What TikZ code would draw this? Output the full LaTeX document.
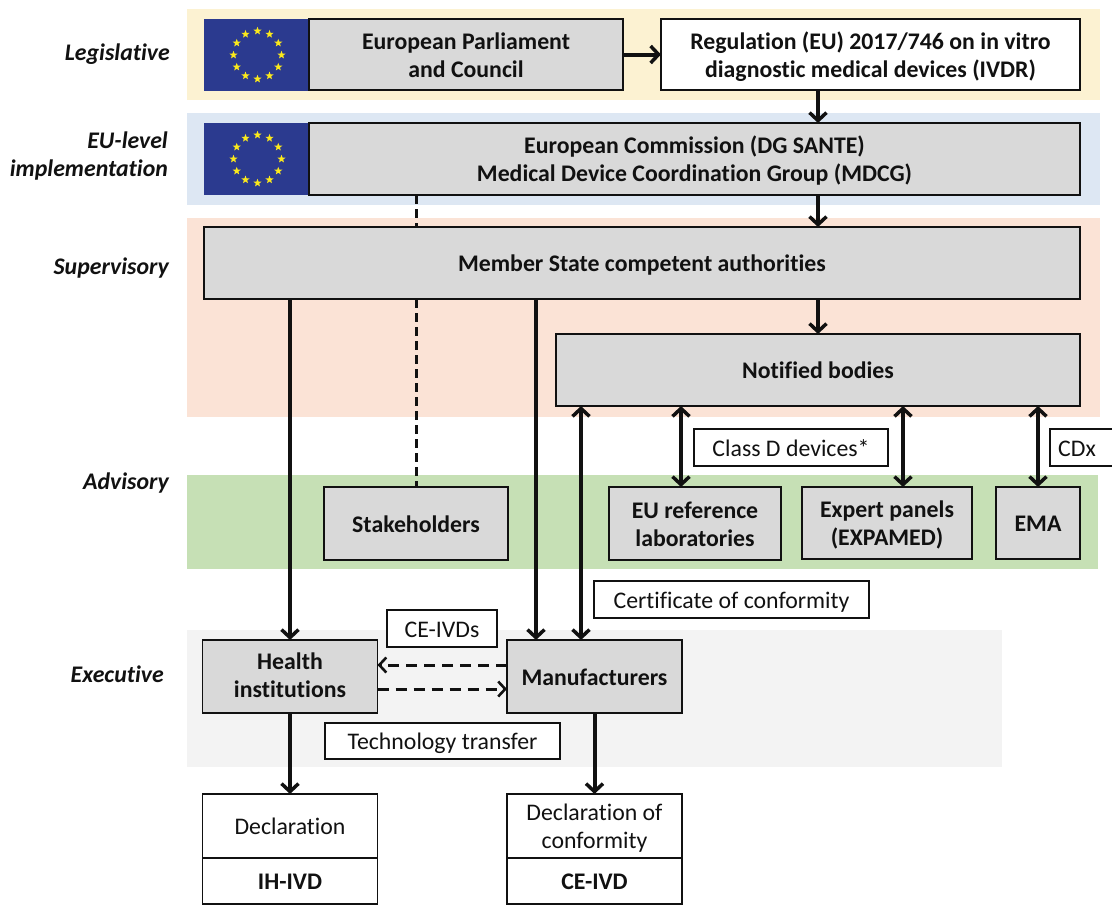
\documentclass[tikz,border=0pt]{standalone}
\usepackage{fontspec}
\setmainfont[Ligatures=NoCommon]{Carlito}
\usetikzlibrary{arrows.meta,shapes.geometric,calc}
\definecolor{bandyellow}{HTML}{FCF2D2}
\definecolor{bandblue}{HTML}{DDE7F3}
\definecolor{bandpeach}{HTML}{FBE3D6}
\definecolor{bandgreen}{HTML}{C6E0B5}
\definecolor{bandgrey}{HTML}{F3F3F3}
\definecolor{boxgrey}{HTML}{D9D9D9}
\definecolor{flagblue}{HTML}{2B3A8F}
\definecolor{flagstar}{HTML}{FBE91C}
\definecolor{ink}{HTML}{111111}
\newcommand{\pairC}[2]{\raisebox{-0.9pt}[0pt][0pt]{\begin{tabular}{@{}c@{}}#1\\#2\end{tabular}}}
\newcommand{\pairR}[2]{\raisebox{-0.9pt}[0pt][0pt]{\begin{tabular}{@{}r@{}}#1\\#2\end{tabular}}}
\tikzset{
  x=1pt,y=-1pt,
  evenstrut/.style={execute at begin node={\rule{0pt}{22pt}},execute at end node={\rule[-5pt]{0pt}{5pt}}},
  boxbase/.style={evenstrut,draw=ink,line width=1.9pt,inner sep=0,outer sep=0,align=center,text=ink,font=\fontsize{23.8}{28}\selectfont},
  greybox/.style={boxbase,fill=boxgrey,font=\fontsize{23.8}{28}\selectfont\bfseries},
  whitebox/.style={boxbase,fill=white},
  whitebold/.style={boxbase,fill=white,font=\fontsize{23.8}{28}\selectfont\bfseries},
  tag/.style={boxbase,fill=white},
  levellabel/.style={evenstrut,anchor=east,align=right,text=ink,inner sep=0,font=\fontsize{23.8}{28}\selectfont\bfseries\itshape},
  flagrect/.style={fill=flagblue,draw=none,inner sep=0,outer sep=0},
  eustar/.style={star,star points=5,star point ratio=2.4,fill=flagstar,draw=none,inner sep=0,minimum size=8.5pt},
  strong/.style={draw=ink,line width=4pt,-{Straight Barb[length=8pt,width=17pt,line width=3.5pt]}},
  strongboth/.style={draw=ink,line width=4pt,{Straight Barb[length=8pt,width=17pt,line width=3.5pt]}-{Straight Barb[length=8pt,width=17pt,line width=3.5pt]}},
  dashlink/.style={draw=ink,line width=3pt,dash pattern=on 9pt off 5pt},
  dasharrow/.style={draw=ink,line width=3pt,dash pattern=on 11pt off 7pt,-{Straight Barb[length=7pt,width=15pt,line width=2.6pt]}},
}
\begin{document}
\begin{tikzpicture}
\useasboundingbox (0,0) rectangle (1112,905);
% bands
\fill[bandyellow] (187,9) rectangle (1100,100);
\fill[bandblue] (187,113) rectangle (1100,205);
\fill[bandpeach] (187,218) rectangle (1100,417);
\fill[bandgreen] (187,475) rectangle (1098,569);
\fill[bandgrey] (187,630) rectangle (1002,767);
% flags
\node[flagrect,minimum width=105pt,minimum height=72pt] (flagA) at (256.5,55) {};
\node[flagrect,minimum width=105pt,minimum height=72pt] (flagB) at (256.5,159) {};
\foreach \f/\cy in {A/55,B/159}{
  \foreach \i in {1,...,12}{
    \node[eustar] (star\f\i) at ({257.5+24*cos(30*\i)},{\cy+24*sin(30*\i)}) {};
  }
}
% boxes
\node[greybox,minimum width=314pt,minimum height=71pt] (parl) at (466,54.5) {\pairC{European Parliament}{and Council}};
\node[whitebold,minimum width=419pt,minimum height=71pt] (ivdr) at (870.5,54.5) {\pairC{Regulation (EU) 2017/746 on in vitro}{diagnostic medical devices (IVDR)}};
\node[greybox,minimum width=771pt,minimum height=72pt] (ec) at (694.5,159) {\pairC{European Commission (DG SANTE)}{Medical Device Coordination Group (MDCG)}};
\node[greybox,minimum width=876pt,minimum height=72pt] (ms) at (642,263) {Member State competent authorities};
\node[greybox,minimum width=524pt,minimum height=72pt] (nb) at (818,370) {Notified bodies};
\node[greybox,minimum width=184pt,minimum height=73pt] (stake) at (416,523.5) {Stakeholders};
\node[greybox,minimum width=172pt,minimum height=73pt] (ref) at (695,523.5) {\pairC{EU reference}{laboratories}};
\node[greybox,minimum width=170pt,minimum height=72pt] (exp) at (887,523) {\pairC{Expert panels}{(EXPAMED)}};
\node[greybox,minimum width=84pt,minimum height=72pt] (ema) at (1038,523) {EMA};
\node[greybox,minimum width=175pt,minimum height=73pt] (hi) at (290,676.5) {\raisebox{1.5pt}[0pt][0pt]{\pairC{Health}{institutions}}};
\node[greybox,minimum width=175pt,minimum height=73pt] (mf) at (594.5,676.5) {Manufacturers};
\node[whitebox,minimum width=175pt,minimum height=64pt] (decl) at (290,826) {Declaration};
\node[whitebold,minimum width=175pt,minimum height=46pt] (ih) at (290,881) {IH-IVD};
\node[whitebox,minimum width=175pt,minimum height=64pt] (doc) at (594.5,826) {\pairC{Declaration of}{conformity}};
\node[whitebold,minimum width=175pt,minimum height=46pt] (ce) at (594.5,881) {CE-IVD};
% tags
\node[tag,minimum width=194pt,minimum height=37pt] (classd) at (791,447.5) {Class D devices*};
\node[tag,minimum width=70pt,minimum height=37pt] (cdx) at (1085,447.5) {\hspace*{-16pt}CDx};
\node[tag,minimum width=275pt,minimum height=37pt] (cert) at (731.5,599.5) {Certificate of conformity};
\node[tag,minimum width=110pt,minimum height=37pt] (ceivds) at (442,628.5) {CE-IVDs};
\node[tag,minimum width=235pt,minimum height=36pt] (tech) at (442.5,741) {Technology transfer};
% level labels
\node[levellabel] (lLeg) at (170,52) {Legislative};
\node[levellabel] (lEU) at (168,154) {\pairR{EU-level}{implementation}};
\node[levellabel] (lSup) at (169,266) {Supervisory};
\node[levellabel] (lAdv) at (169,481) {Advisory};
\node[levellabel] (lExe) at (164,674) {Executive};
% connectors
\draw[strong] (parl.east) -- (ivdr.west);
\draw[strong] (ivdr.south -| nb.north) -- (ec.north -| nb.north);
\draw[strong] (ec.south -| nb.north) -- (ms.north -| nb.north);
\draw[strong] (ms.south -| nb.north) -- (nb.north);
\draw[dashlink] (ec.south -| stake.north) -- (ms.north -| stake.north);
\draw[dashlink] (ms.south -| stake.north) -- (stake.north);
\draw[strong] (ms.south -| hi.north) -- (hi.north);
\coordinate (mfA) at ($(mf.north west)+(29,0)$);
\coordinate (mfB) at ($(mf.north west)+(74,0)$);
\draw[strong] (ms.south -| mfA) -- (mfA);
\draw[strongboth] (nb.south -| mfB) -- (mfB);
\coordinate (refT) at ($(ref.north)+(-14,0)$);
\coordinate (expT) at ($(exp.north)+(16,0)$);
\draw[strongboth] (nb.south -| refT) -- (refT);
\draw[strongboth] (nb.south -| expT) -- (expT);
\draw[strongboth] (nb.south -| ema.north) -- (ema.north);
\coordinate (dashU) at ($(mf.west)+(0,-11.5)$);
\coordinate (dashL) at ($(mf.west)+(0,12.5)$);
\draw[dasharrow] (dashU) -- (dashU -| hi.east);
\draw[dasharrow] (dashL -| hi.east) -- (dashL);
\draw[strong] (hi.south) -- (decl.north);
\draw[strong] (mf.south) -- (doc.north);
\end{tikzpicture}
\end{document}
